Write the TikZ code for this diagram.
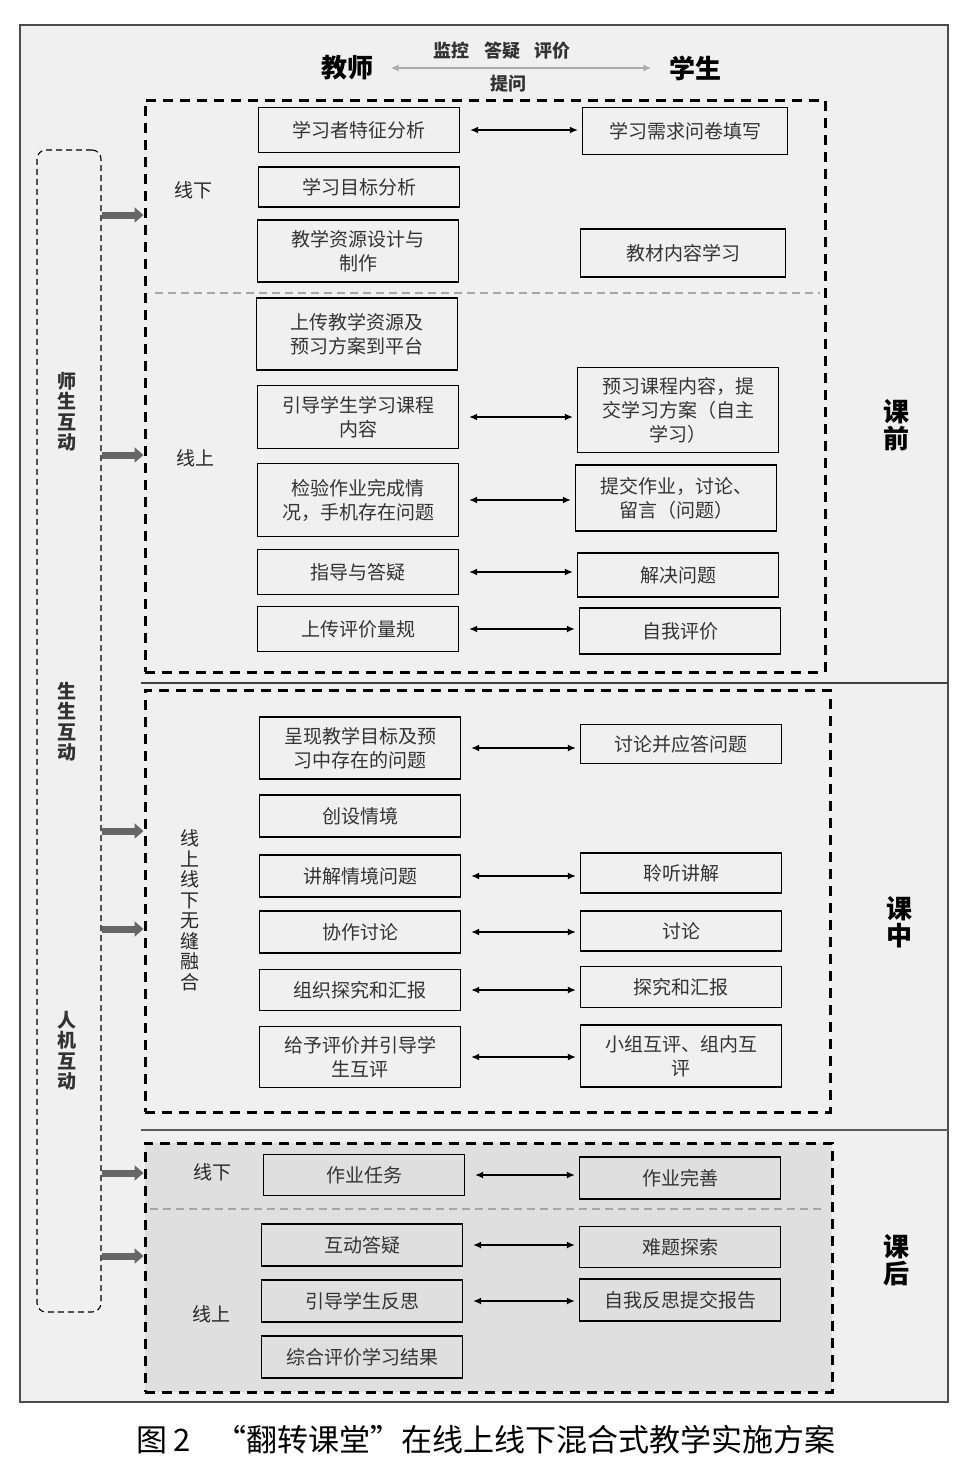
\documentclass[tikz,border=0pt]{standalone}
\usepackage{fontspec}
\setmainfont{Noto Sans CJK SC}
\usetikzlibrary{arrows.meta}

\begin{document}
\begin{tikzpicture}[x=1pt,y=-1pt,>={Latex[length=8pt,width=7pt]},
  box/.style={draw,line width=1.3pt,align=center,text=black!80,inner sep=2pt,
    font=\fontsize{19}{24}\selectfont,minimum width=201pt},
  phase/.style={draw,line width=3pt,dash pattern=on 10pt off 7pt},
  split/.style={draw=gray!70,line width=1.5pt,dash pattern=on 8pt off 5pt},
  dbl/.style={<->,line width=1.4pt},
  fat/.style={-{Triangle[length=9pt,width=15pt]},line width=7pt,draw=black!60},
  tag/.style={font=\fontsize{19}{20.5}\selectfont,align=center,text=black!85},
  side/.style={font=\bfseries\fontsize{19}{20.5}\selectfont,align=center,text=black!80},
  stage/.style={font=\bfseries\fontsize{26}{27}\selectfont,align=center}]
  \useasboundingbox (0,0) rectangle (953,1457);
  \fill[white] (0,0) rectangle (953,1457);
  % Frame and stage separators
  \draw[fill=gray!12,draw=black!70,line width=1.5pt] (20,25) rectangle (948,1402);
  \draw[black!75,line width=2pt] (141,683) -- (948,683);
  \draw[black!65,line width=1.5pt] (141,1130) -- (948,1130);
  % Teacher / student
  \node[stage] (teacher) at (347,68) {教师};
  \node[stage] (student) at (695,68) {学生};
  \draw[<->,draw=gray!65,line width=2.5pt,shorten <=14pt,shorten >=14pt] (teacher) -- (student);
  \node[side,font=\bfseries\fontsize{18}{20}\selectfont] (tasks) at (502,51) {监控\hspace{0.8em}答疑\hspace{0.8em}评价};
  \node[side,font=\bfseries\fontsize{18}{20}\selectfont] (ask) at (508,84) {提问};
  % Interaction column
  \node[draw,line width=1.1pt,dash pattern=on 6pt off 4pt,rounded corners=9pt,
    minimum width=64pt,minimum height=1162pt] (col) at (69,731) {};
  \node[side] (tt) at (67,412) {师\\生\\互\\动};
  \node[side] (ss) at (67,722) {生\\生\\互\\动};
  \node[side] (hm) at (67,1051) {人\\机\\互\\动};
  % Stages
  \node[phase,minimum width=680pt,minimum height=572pt] (pre) at (485,386) {};
  \node[phase,minimum width=685pt,minimum height=422pt] (mid) at (487.5,901) {};
  \node[phase,fill=gray!25,minimum width=687pt,minimum height=249pt] (post) at (488.5,1267.5) {};
  \draw[split] (155,293) -- (820,293);
  \draw[split] (150,1209) -- (822,1209);
  \node[stage] (prel) at (896,425) {课\\前};
  \node[stage] (midl) at (899,922) {课\\中};
  \node[stage] (postl) at (896,1260) {课\\后};
  \node[tag] (off1) at (193,190) {线下};
  \node[tag] (on1) at (195,458) {线上};
  \node[tag] (mix) at (190,910) {线\\上\\线\\下\\无\\缝\\融\\合};
  \node[tag] (off3) at (212,1172) {线下};
  \node[tag] (on3) at (211,1314) {线上};
  \foreach \yy/\ph in {215/pre,455/pre,831/mid,929/mid,1173/post,1256/post}
    \draw[fat] (col.east |- 0,\yy) -- (\ph.west |- 0,\yy);

  % Before class: teacher
  \node[box,minimum height=45pt] (t11) at (359,130) {学习者特征分析};
  \node[box,minimum height=40pt] (t12) at (359,187) {学习目标分析};
  \node[box,minimum height=62pt] (t13) at (358,251) {教学资源设计与\\制作};
  \node[box,minimum height=72pt] (t14) at (357,334) {上传教学资源及\\预习方案到平台};
  \node[box,minimum height=63pt] (t15) at (358,417) {引导学生学习课程\\内容};
  \node[box,minimum height=73pt] (t16) at (358,500) {检验作业完成情\\况，手机存在问题};
  \node[box,minimum height=45pt] (t17) at (358,572) {指导与答疑};
  \node[box,minimum height=45pt] (t18) at (358,629) {上传评价量规};
  % Before class: student
  \node[box,minimum width=205pt,minimum height=47pt] (s11) at (685,131) {学习需求问卷填写};
  \node[box,minimum width=205pt,minimum height=48pt] (s13) at (683,253) {教材内容学习};
  \node[box,minimum height=85pt] (s15) at (678,410) {预习课程内容，提\\交学习方案（自主\\学习）};
  \node[box,minimum height=66pt] (s16) at (676,498) {提交作业，讨论、\\留言（问题）};
  \node[box,minimum height=44pt] (s17) at (678,575) {解决问题};
  \node[box,minimum height=46pt] (s18) at (680,631) {自我评价};

  % In class
  \node[box,minimum height=62pt] (c1) at (360,748) {呈现教学目标及预\\习中存在的问题};
  \node[box,minimum height=42pt] (c2) at (360,816) {创设情境};
  \node[box,minimum height=42pt] (c3) at (360,876) {讲解情境问题};
  \node[box,minimum height=42pt] (c4) at (360,932) {协作讨论};
  \node[box,minimum height=41pt] (c5) at (360,990) {组织探究和汇报};
  \node[box,minimum height=61pt] (c6) at (360,1057) {给予评价并引导学\\生互评};
  \node[box,minimum height=39pt] (d1) at (681,744) {讨论并应答问题};
  \node[box,minimum height=40pt] (d3) at (681,873) {聆听讲解};
  \node[box,minimum height=40pt] (d4) at (681,931) {讨论};
  \node[box,minimum height=41pt] (d5) at (681,987) {探究和汇报};
  \node[box,minimum height=62pt] (d6) at (681,1056) {小组互评、组内互\\评};

  % After class
  \node[box,minimum height=41pt] (a1) at (364,1175) {作业任务};
  \node[box,minimum height=42pt] (a2) at (362,1245) {互动答疑};
  \node[box,minimum height=42pt] (a3) at (362,1301) {引导学生反思};
  \node[box,minimum height=42pt] (a4) at (362,1357) {综合评价学习结果};
  \node[box,minimum height=42pt] (b1) at (680,1178) {作业完善};
  \node[box,minimum height=41pt] (b2) at (680,1247) {难题探索};
  \node[box,minimum height=42pt] (b3) at (680,1300) {自我反思提交报告};

  % Teacher <-> student links
  \foreach \l/\r in {t11/s11,t15/s15,t16/s16,t17/s17,t18/s18,c1/d1,c3/d3,c4/d4,c5/d5,c6/d6,a1/b1,a2/b2,a3/b3}
    \draw[dbl] ([xshift=10pt]\l.east) -- ([xshift=-4pt]\l.east -| \r.west);

  \node[font=\fontsize{31}{32}\selectfont] (cap) at (486,1440) {图 2\hspace{0.8em}“翻转课堂”在线上线下混合式教学实施方案};
\end{tikzpicture}
\end{document}
